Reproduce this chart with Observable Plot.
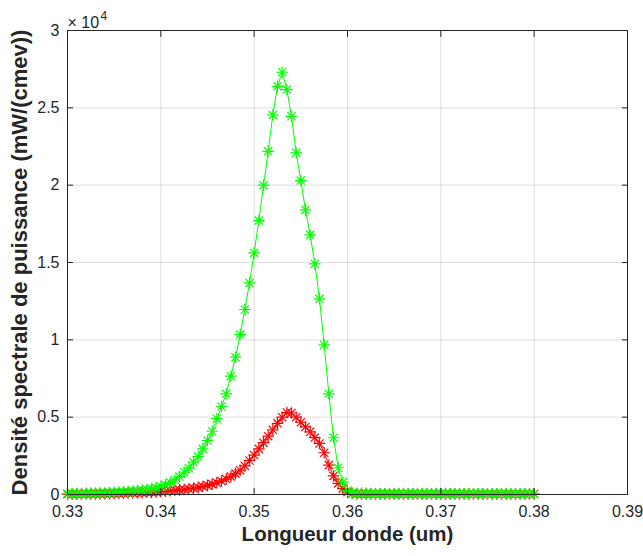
<!DOCTYPE html>
<html><head><meta charset="utf-8">
<script src="https://cdn.jsdelivr.net/npm/d3@7"></script>
<script src="https://cdn.jsdelivr.net/npm/@observablehq/plot@0.6"></script>
<style>
body{margin:0;background:#fff;}
#wrap{position:relative;width:643px;height:556px;}
</style></head><body>
<div id="wrap"></div>
<script>
const wavelength = [
0.3300,0.3305,0.3310,0.3315,0.3320,0.3325,0.3330,0.3335,0.3340,0.3345,
0.3350,0.3355,0.3360,0.3365,0.3370,0.3375,0.3380,0.3385,0.3390,0.3395,
0.3400,0.3405,0.3410,0.3415,0.3420,0.3425,0.3430,0.3435,0.3440,0.3445,
0.3450,0.3455,0.3460,0.3465,0.3470,0.3475,0.3480,0.3485,0.3490,0.3495,
0.3500,0.3505,0.3510,0.3515,0.3520,0.3525,0.3530,0.3535,0.3540,0.3545,
0.3550,0.3555,0.3560,0.3565,0.3570,0.3575,0.3580,0.3585,0.3590,0.3595,
0.3600,0.3605,0.3610,0.3615,0.3620,0.3625,0.3630,0.3635,0.3640,0.3645,
0.3650,0.3655,0.3660,0.3665,0.3670,0.3675,0.3680,0.3685,0.3690,0.3695,
0.3700,0.3705,0.3710,0.3715,0.3720,0.3725,0.3730,0.3735,0.3740,0.3745,
0.3750,0.3755,0.3760,0.3765,0.3770,0.3775,0.3780,0.3785,0.3790,0.3795,
0.3800];
// values in units of 10^4 mW/(cmev)
const greenSeries = [
0.006,0.006,0.007,0.007,0.008,0.009,0.010,0.011,0.012,0.013,
0.014,0.016,0.018,0.020,0.022,0.025,0.029,0.033,0.038,0.043,
0.052,0.063,0.078,0.094,0.116,0.144,0.170,0.209,0.245,0.295,
0.349,0.409,0.490,0.569,0.651,0.765,0.888,1.034,1.196,1.368,
1.562,1.771,2.000,2.219,2.454,2.639,2.730,2.618,2.445,2.209,
2.030,1.840,1.679,1.491,1.265,0.968,0.651,0.367,0.173,0.080,
0.026,0.010,0.008,0.008,0.008,0.007,0.007,0.007,0.007,0.007,
0.007,0.007,0.006,0.006,0.006,0.006,0.006,0.006,0.006,0.006,
0.006,0.006,0.006,0.006,0.006,0.005,0.005,0.005,0.005,0.005,
0.005,0.005,0.005,0.005,0.005,0.005,0.005,0.005,0.005,0.005,
0.005];
const redSeries = [
0.002,0.002,0.002,0.003,0.003,0.003,0.004,0.004,0.005,0.005,
0.006,0.007,0.008,0.009,0.010,0.011,0.012,0.014,0.015,0.017,
0.019,0.021,0.024,0.027,0.030,0.033,0.037,0.041,0.046,0.052,
0.059,0.067,0.076,0.087,0.100,0.116,0.135,0.157,0.185,0.220,
0.255,0.295,0.335,0.377,0.418,0.460,0.500,0.530,0.527,0.500,
0.467,0.437,0.405,0.368,0.330,0.270,0.190,0.120,0.072,0.038,
0.015,0.006,0.004,0.003,0.003,0.003,0.003,0.003,0.003,0.003,
0.003,0.003,0.003,0.003,0.003,0.003,0.003,0.003,0.003,0.003,
0.003,0.003,0.003,0.003,0.003,0.003,0.003,0.003,0.003,0.003,
0.003,0.003,0.003,0.003,0.003,0.003,0.003,0.003,0.003,0.003,
0.003];
const xTicks = [0.33,0.34,0.35,0.36,0.37,0.38,0.39];
const xTickLabels = ["0.33","0.34","0.35","0.36","0.37","0.38","0.39"];
const yTicks = [0,0.5,1,1.5,2,2.5,3];
const yTickLabels = ["0","0.5","1","1.5","2","2.5","3"];
const xLabel = "Longueur donde (um)";
const yLabel = "Densité spectrale de puissance (mW/(cmev))";
const exponentBase = "× 10";
const exponentPower = "4";

const rows = wavelength.map((w,i)=>({w, g: greenSeries[i], r: redSeries[i]}));
const GREEN = "#00ff00", RED = "#ff0000", AX = "#262626";
const font = "Liberation Sans, Arial, Helvetica, sans-serif";
const MR = 3.8, MW = 1.2;

const chart = Plot.plot({
  width: 643, height: 556,
  marginLeft: 67, marginRight: 16, marginTop: 30, marginBottom: 62,
  style: {fontFamily: font, fontSize: "16px", color: AX, background: "transparent", overflow: "visible"},
  x: {domain: [0.33, 0.39], label: null},
  y: {domain: [0, 3], label: null},
  marks: [
    Plot.gridX(xTicks, {stroke: AX, strokeOpacity: 0.15, strokeWidth: 1}),
    Plot.gridY(yTicks, {stroke: AX, strokeOpacity: 0.15, strokeWidth: 1}),
    Plot.line(rows, {x: "w", y: "r", stroke: RED, strokeWidth: 1}),
    Plot.dot(rows, {x: "w", y: "r", symbol: "plus", r: MR, stroke: RED, strokeWidth: MW}),
    Plot.dot(rows, {x: "w", y: "r", symbol: "times", r: MR, stroke: RED, strokeWidth: MW}),
    Plot.line(rows, {x: "w", y: "g", stroke: GREEN, strokeWidth: 1}),
    Plot.dot(rows, {x: "w", y: "g", symbol: "plus", r: MR, stroke: GREEN, strokeWidth: MW}),
    Plot.dot(rows, {x: "w", y: "g", symbol: "times", r: MR, stroke: GREEN, strokeWidth: MW}),
    Plot.frame({stroke: AX, strokeWidth: 1}),
    Plot.axisX(xTicks, {anchor: "bottom", tickSize: -6, tickPadding: 17, label: null, stroke: AX, fill: AX,
      tickFormat: (d) => xTickLabels[xTicks.indexOf(d)]}),
    Plot.axisX(xTicks, {anchor: "top", tickSize: -6, label: null, stroke: AX, tickFormat: () => ""}),
    Plot.axisY(yTicks, {anchor: "left", tickSize: -6, tickPadding: 14, label: null, stroke: AX, fill: AX,
      tickFormat: (d) => yTickLabels[yTicks.indexOf(d)]}),
    Plot.axisY(yTicks, {anchor: "right", tickSize: -6, label: null, stroke: AX, tickFormat: () => ""}),
    Plot.text([exponentBase], {frameAnchor: "top-left", textAnchor: "start", lineAnchor: "bottom", dx: 0, dy: -3, text: (d) => d, fontSize: 16, fill: AX}),
    Plot.text([exponentPower], {frameAnchor: "top-left", textAnchor: "start", lineAnchor: "bottom", dx: 33, dy: -11, text: (d) => d, fontSize: 12, fill: AX}),
    Plot.text([xLabel], {frameAnchor: "bottom", textAnchor: "middle", dy: 46, text: (d) => d, fontWeight: "bold", fontSize: 20.5, fill: AX}),
    Plot.text([yLabel], {frameAnchor: "left", textAnchor: "middle", dx: -48, rotate: -90, text: (d) => d, fontWeight: "bold", fontSize: 22, fill: AX})
  ]
});
document.getElementById("wrap").appendChild(chart);
</script>
</body></html>
